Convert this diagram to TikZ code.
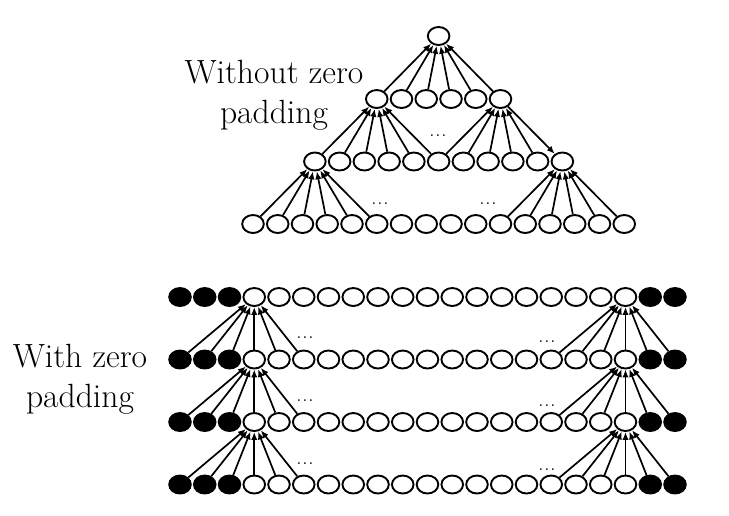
\documentclass[tikz,border=0pt]{standalone}
\usepackage{tikz}
\usetikzlibrary{shapes.geometric, arrows.meta}
\newcommand{\gapdots}{.\hspace{0.6pt}.\hspace{0.6pt}.}
\tikzset{
  unit/.style    = {ellipse, draw, line width=0.95pt, minimum width=10.8pt,
                    minimum height=9pt, inner sep=0pt},
  pad/.style     = {unit, fill=black},
  arrow/.style   = {-{Latex[length=4pt, width=3.2pt]}, line width=0.85pt},
  caption/.style = {align=center, inner sep=0pt,
                    font=\fontsize{16.8}{20}\selectfont},
  dots/.style    = {anchor=base, inner sep=0pt, font=\footnotesize},
}

\begin{document}
\begin{tikzpicture}[x=0.5pt, y=-0.5pt]
  \useasboundingbox (0,0) rectangle (729,515);

  % without zero padding
  \node[caption] (lbltop) at (274,95) {Without zero\\padding};
  \foreach \i in {0,...,15}
    \node[unit] (a\i) at ({253+24.75*\i},224) {};
  \foreach \i in {0,...,10}
    \node[unit] (b\i) at ({253+24.75*(\i+2.5)},161.5) {};
  \foreach \i in {0,...,5}
    \node[unit] (c\i) at ({253+24.75*(\i+5)},99) {};
  \node[unit] (top) at ({253+24.75*7.5},36) {};

  \foreach \i in {0,...,5} \draw[arrow] (c\i) -- (top);
  \foreach \i in {0,...,5} \draw[arrow] (b\i) -- (c0);
  \foreach \i in {5,...,9} \draw[arrow] (b\i) -- (c5);
  \draw[arrow] (c5) -- (b10);
  \foreach \i in {0,...,5} \draw[arrow] (a\i) -- (b0);
  \foreach \i in {10,...,15} \draw[arrow] (a\i) -- (b10);

  \node[dots] (dc) at (438,136) {\gapdots};
  \node[dots] (dbl) at (380,204) {\gapdots};
  \node[dots] (dbr) at (488,204) {\gapdots};

  % with zero padding
  \node[caption] (lblbot) at (80,379) {With zero\\padding};
  \foreach \r/\y in {1/297, 2/359.5, 3/422, 4/484.5} {
    \foreach \i in {0,1,2,19,20}
      \node[pad] (z\r-\i) at ({180+24.75*\i},\y) {};
    \foreach \i in {3,...,18}
      \node[unit] (z\r-\i) at ({180+24.75*\i},\y) {};
  }
  \foreach \r/\s in {1/2, 2/3, 3/4} {
    \foreach \i in {0,...,5} \draw[arrow] (z\s-\i) -- (z\r-3);
    \foreach \i in {15,...,20} \draw[arrow] (z\s-\i) -- (z\r-18);
  }

  \foreach \y/\v in {338/342, 401/406, 464/470} {
    \node[dots] at (305,\y) {\gapdots};
    \node[dots] at (547,\v) {\gapdots};
  }
\end{tikzpicture}
\end{document}
